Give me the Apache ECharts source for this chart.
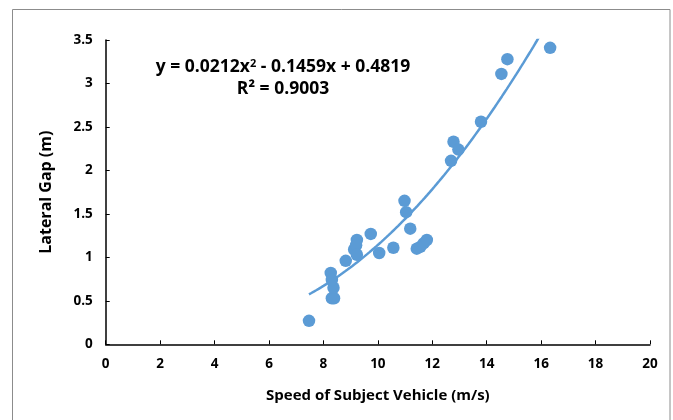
<!DOCTYPE html>
<html>
<head>
<meta charset="utf-8">
<script src="https://cdn.jsdelivr.net/npm/echarts@6/dist/echarts.min.js"></script>
<style>
  html, body { margin: 0; padding: 0; background: #fff; }
  #chart { width: 673px; height: 420px; }
</style>
</head>
<body>
<div id="chart"></div>
<script>
// Observed speed (m/s) and lateral gap (m) of each passing event
const speeds = [7.47, 8.31, 8.39, 8.37, 8.27, 8.31, 8.82, 9.13, 9.23, 9.20, 9.23, 9.74, 10.05, 10.57,
                10.98, 11.04, 11.19, 11.43, 11.56, 11.68, 11.80, 12.69, 12.78, 12.96, 13.79, 14.54, 14.76, 16.33];
const gaps = [0.27, 0.53, 0.53, 0.65, 0.82, 0.74, 0.96, 1.09, 1.20, 1.14, 1.03, 1.27, 1.05, 1.11,
              1.65, 1.52, 1.33, 1.10, 1.12, 1.16, 1.20, 2.11, 2.33, 2.24, 2.56, 3.11, 3.28, 3.41];

// Polynomial (order 2) trendline coefficients and fit quality
const trendCoef = { a: 0.0212, b: -0.1459, c: 0.4819 };
const rSquared = '0.9003';

const xTicks = [0, 2, 4, 6, 8, 10, 12, 14, 16, 18, 20];
const yTicks = [0, 0.5, 1, 1.5, 2, 2.5, 3, 3.5];

const points = speeds.map((s, i) => [s, gaps[i]]);

// Trendline sampled over the data's speed range
const xMin = Math.min(...speeds), xMax = Math.max(...speeds);
const trend = [];
for (let k = 0; k <= 200; k++) {
  const x = xMin + (xMax - xMin) * k / 200;
  trend.push([x, trendCoef.a * x * x + trendCoef.b * x + trendCoef.c]);
}

const FONT = '"Open Sans", Lato, sans-serif';
const blue = '#5B9BD5';

const chart = echarts.init(document.getElementById('chart'), null, { renderer: 'canvas' });
chart.setOption({
  animation: false,
  backgroundColor: '#ffffff',
  grid: { left: 105.7, right: 23, top: 40, bottom: 75.7, containLabel: false },
  xAxis: {
    type: 'value', min: xTicks[0], max: xTicks[xTicks.length - 1], interval: 2,
    name: 'Speed of Subject Vehicle (m/s)', nameLocation: 'middle', nameGap: 44,
    nameTextStyle: { fontFamily: FONT, fontWeight: 'bold', fontSize: 15, color: '#000' },
    axisLine: { show: true, lineStyle: { color: '#000', width: 1.5 } },
    axisTick: { show: true, inside: true, length: 4, lineStyle: { color: '#000', width: 1 } },
    axisLabel: { fontFamily: FONT, fontWeight: 'bold', fontSize: 13.5, color: '#000', margin: 13 },
    splitLine: { show: false }
  },
  yAxis: {
    type: 'value', min: yTicks[0], max: yTicks[yTicks.length - 1], interval: 0.5,
    name: 'Lateral Gap (m)', nameLocation: 'middle', nameGap: 51, nameRotate: 90,
    nameTextStyle: { fontFamily: FONT, fontWeight: 'bold', fontSize: 16, color: '#000' },
    axisLine: { show: true, lineStyle: { color: '#000', width: 1.5 } },
    axisTick: { show: true, inside: true, length: 4, lineStyle: { color: '#000', width: 1 } },
    axisLabel: { fontFamily: FONT, fontWeight: 'bold', fontSize: 13.5, color: '#000', margin: 13 },
    splitLine: { show: false }
  },
  series: [
    {
      type: 'line', data: trend, showSymbol: false, smooth: false, clip: true,
      lineStyle: { color: blue, width: 2.5 }, z: 2
    },
    {
      type: 'scatter', data: points, symbol: 'circle', symbolSize: 12.5,
      itemStyle: { color: blue, opacity: 1 }, z: 3
    }
  ],
  graphic: [
    {
      type: 'rect', shape: { x: 12.5, y: 9.5, width: 657.5, height: 420 },
      style: { fill: 'none', stroke: '#8c8c8c', lineWidth: 1 }, silent: true
    },
    {
      type: 'text', x: 283, y: 67,
      style: {
        text: '{t|y = 0.0212x}{s|2}{t| - 0.1459x + 0.4819}',
        align: 'center', verticalAlign: 'middle',
        rich: {
          t: { fontFamily: FONT, fontWeight: 'bold', fontSize: 17.5, fill: '#000' },
          s: { fontFamily: FONT, fontWeight: 'bold', fontSize: 11, fill: '#000', verticalAlign: 'top', padding: [0, 0, 7, 0] }
        }
      }
    },
    {
      type: 'text', x: 283, y: 89,
      style: {
        text: 'R² = ' + rSquared,
        align: 'center', verticalAlign: 'middle',
        fontFamily: FONT, fontWeight: 'bold', fontSize: 17.5, fill: '#000'
      }
    }
  ]
});
</script>
</body>
</html>
